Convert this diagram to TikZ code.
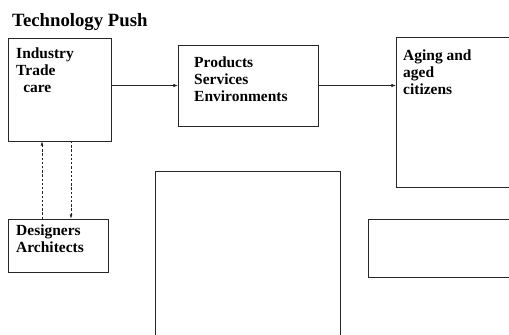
\documentclass[tikz,border=0pt]{standalone}
\usepackage{fontspec}
\setmainfont{Liberation Serif}
\usetikzlibrary{arrows.meta, positioning, calc, fit}

\begin{document}
\begin{tikzpicture}[
    x=0.03cm, y=-0.03cm,
    box/.style={
      draw=black!85,
      line width=0.6pt,
      inner sep=0pt,
      outer sep=0pt,
    },
    txt/.style={
      anchor=north west,
      inner sep=0pt,
      align=left,
      font=\fontsize{13.2}{14.4}\selectfont\bfseries,
    },
    arr/.style={-{Latex[length=4pt, width=3pt]}, black!85, line width=0.6pt},
    darr/.style={-{Latex[length=4pt, width=2.5pt]}, black!85, line width=0.7pt, dash pattern=on 2pt off 1.6pt},
  ]
    \path[use as bounding box, clip] (0,0) rectangle (509,334);

    % Title
    \node[anchor=base west, inner sep=0pt, font=\fontsize{16}{19}\selectfont\bfseries] (title) at (12,26) {Technology Push};

    % Industry
    \node[box, fit={(8,38) (111,141)}] (industry) {};
    \node[txt] (industrytxt) at ($(industry.north west)+(8,10)$) {Industry\\Trade\\\hspace{6pt}care};

    % Products
    \node[box, fit={(178,45) (318,126)}] (products) {};
    \node[txt] (productstxt) at ($(products.north west)+(16,12)$) {Products\\Services\\Environments};

    % Aged citizens
    \node[box, fit={(396,37) (530,187)}] (citizens) {};
    \node[txt] (citizenstxt) at ($(citizens.north west)+(7,13)$) {Aging and\\aged\\citizens};

    % Designers
    \node[box, fit={(8,219) (108,272)}] (designers) {};
    \node[txt] (designerstxt) at ($(designers.north west)+(8,6)$) {Designers\\Architects};

    % empty boxes
    \node[box, fit={(155,171) (340,350)}] (middle) {};
    \node[box, fit={(368,219) (530,277)}] (lower) {};

    % links
    \draw[arr] (industry.east |- products.west) -- (products.west);
    \draw[arr] (products.east) -- (products.east -| citizens.west);

    \coordinate (up) at ($(designers.north west)+(34,0)$);
    \coordinate (down) at ($(designers.north west)+(63,0)$);
    \draw[darr] (up) -- (up |- industry.south);
    \draw[darr] (down |- industry.south) -- (down);
  \end{tikzpicture}
\end{document}
